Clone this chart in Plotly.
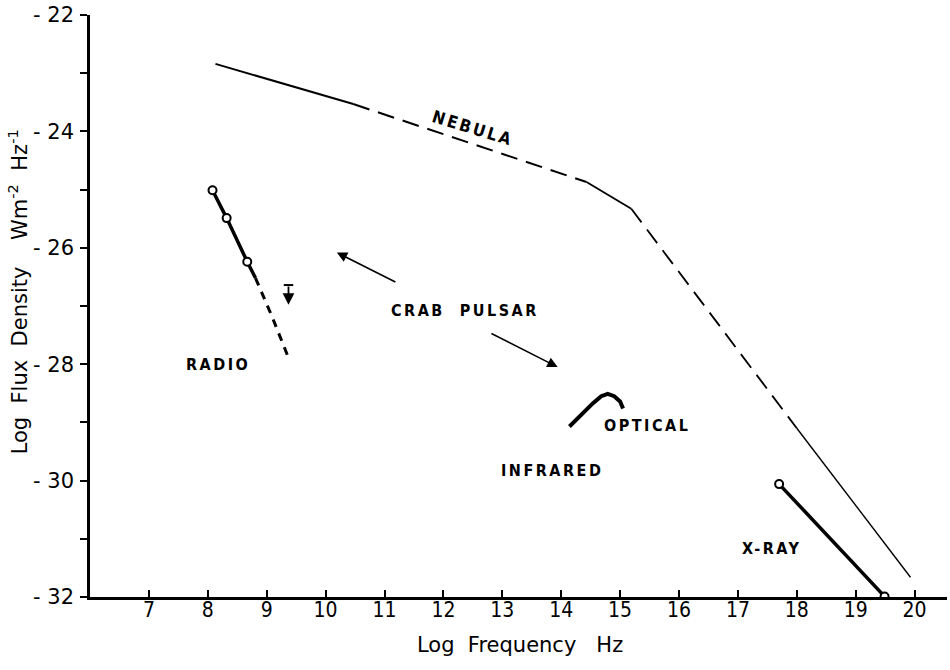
import plotly.graph_objects as go

# Crab nebula spectrum (log nu, log S)
neb_solid1_x = [8.13, 10.47]
neb_solid1_y = [-22.84, -23.53]
neb_dash1_x = [10.47, 12.5, 14.43]
neb_dash1_y = [-23.53, -24.22, -24.87]
neb_solid2_x = [14.43, 15.19]
neb_solid2_y = [-24.87, -25.33]
neb_dash2_x = [15.19, 18.0]
neb_dash2_y = [-25.33, -29.10]
neb_solid3_x = [18.0, 19.93]
neb_solid3_y = [-29.10, -31.66]

# Crab pulsar
radio_x = [8.08, 8.32, 8.67]
radio_y = [-25.01, -25.49, -26.24]
radio_line_x = [8.08, 8.32, 8.67, 8.81]
radio_line_y = [-25.01, -25.49, -26.24, -26.52]
radio_dash_x = [8.81, 9.09, 9.35]
radio_dash_y = [-26.52, -27.18, -27.84]

limit_x = 9.37
limit_top = -26.64
limit_tip = -26.98

optical_x = [14.14, 14.31, 14.54, 14.68, 14.79, 14.90, 15.00, 15.05]
optical_y = [-29.07, -28.89, -28.67, -28.55, -28.51, -28.55, -28.64, -28.76]

xray_x = [17.70, 19.49]
xray_y = [-30.06, -31.99]

x_ticks = list(range(7, 21))
y_ticks = list(range(-32, -21, 2))
y_ticktext = ['- %d' % abs(v) for v in y_ticks]

FONT = 'DejaVu Sans'
NARROW = 'DejaVu Sans Condensed, DejaVu Sans'
BLACK = 'black'

fig = go.Figure()

def seg(x, y, width=2, dash='solid'):
    fig.add_trace(go.Scatter(x=x, y=y, mode='lines',
                             line=dict(color=BLACK, width=width, dash=dash),
                             hoverinfo='skip'))

seg(neb_solid1_x, neb_solid1_y, 2)
seg(neb_dash1_x, neb_dash1_y, 2, '17px,9px')
seg(neb_solid2_x, neb_solid2_y, 1.8)
seg(neb_dash2_x, neb_dash2_y, 1.8, '17px,9px')
seg(neb_solid3_x, neb_solid3_y, 1.4)

seg(radio_line_x, radio_line_y, 3.5)
seg(radio_dash_x, radio_dash_y, 3, '8px,7px')
seg(optical_x, optical_y, 4)
seg(xray_x, xray_y, 3.5)

# upper limit bar
seg([limit_x - 0.08, limit_x + 0.08], [limit_top, limit_top], 2)

marker = dict(symbol='circle', size=8, color='white', line=dict(color=BLACK, width=2))
fig.add_trace(go.Scatter(x=radio_x, y=radio_y, mode='markers', marker=marker, hoverinfo='skip'))
fig.add_trace(go.Scatter(x=xray_x, y=xray_y, mode='markers', marker=marker, hoverinfo='skip'))

def label(text, x, y, size=16, angle=0):
    fig.add_annotation(x=x, y=y, text=text, showarrow=False, textangle=angle,
                       font=dict(family=NARROW, size=size, color=BLACK, weight='bold'))

spaced = '<span style="letter-spacing:2.5px">%s</span>'
label(spaced % 'NEBULA', 12.5, -23.94, 17, 17)
label(spaced % 'RADIO', 8.18, -28.01)
label(spaced % 'CRAB  PULSAR', 12.36, -27.08)
label(spaced % 'OPTICAL', 15.46, -29.06)
label(spaced % 'INFRARED', 13.85, -29.82)
label(spaced % 'X-RAY', 17.57, -31.16)

def arrow(x0, y0, x1, y1, width=1.6):
    fig.add_annotation(x=x1, y=y1, ax=x0, ay=y0, xref='x', yref='y', axref='x', ayref='y',
                       text='', showarrow=True, arrowhead=2, arrowsize=1.3,
                       arrowwidth=width, arrowcolor=BLACK)

arrow(11.21, -26.60, 10.19, -26.08)
arrow(12.79, -27.46, 13.94, -28.05)
arrow(limit_x, limit_top, limit_x, limit_tip, 1.8)

# axis titles
fig.add_annotation(xref='paper', yref='paper', x=-0.083, y=0.525, textangle=-90,
                   xanchor='center', yanchor='middle',
                   text='Log  Flux  Density    Wm<sup>-2</sup>  Hz<sup>-1</sup>',
                   showarrow=False, font=dict(family=FONT, size=21, color=BLACK))
fig.add_annotation(xref='paper', yref='paper', x=0.502, y=-0.0825,
                   xanchor='center', yanchor='middle',
                   text='Log  Frequency   Hz',
                   showarrow=False, font=dict(family=FONT, size=21, color=BLACK))

fig.update_layout(
    width=950, height=670,
    margin=dict(l=90, r=3, t=15, b=73),
    paper_bgcolor='white', plot_bgcolor='white',
    showlegend=False,
    font=dict(family=FONT, size=20, color=BLACK),
    xaxis=dict(range=[6.0, 20.55], tickvals=x_ticks, ticks='inside', ticklen=7,
               tickwidth=1.5, tickcolor=BLACK, showgrid=False, zeroline=False,
               showline=True, linecolor=BLACK, linewidth=2.5, ticklabelstandoff=-8,
               ticklabeloverflow='allow', automargin=False,
               tickfont=dict(family=NARROW, size=21, color=BLACK)),
    yaxis=dict(range=[-32, -22], tickvals=y_ticks, ticktext=y_ticktext,
               ticks='outside', ticklen=7, tickwidth=1.5, tickcolor=BLACK,
               minor=dict(dtick=1, tick0=-32, ticks='outside', ticklen=7,
                          tickwidth=1.5, tickcolor=BLACK, showgrid=False),
               showgrid=False, zeroline=False, showline=True, linecolor=BLACK,
               linewidth=2.5, ticklabelstandoff=2, ticklabeloverflow='allow',
               automargin=False,
               tickfont=dict(family=FONT, size=21, color=BLACK)),
)

fig.write_html('out.html', config={'displayModeBar': False},
               post_script="document.body.style.margin='0';")
